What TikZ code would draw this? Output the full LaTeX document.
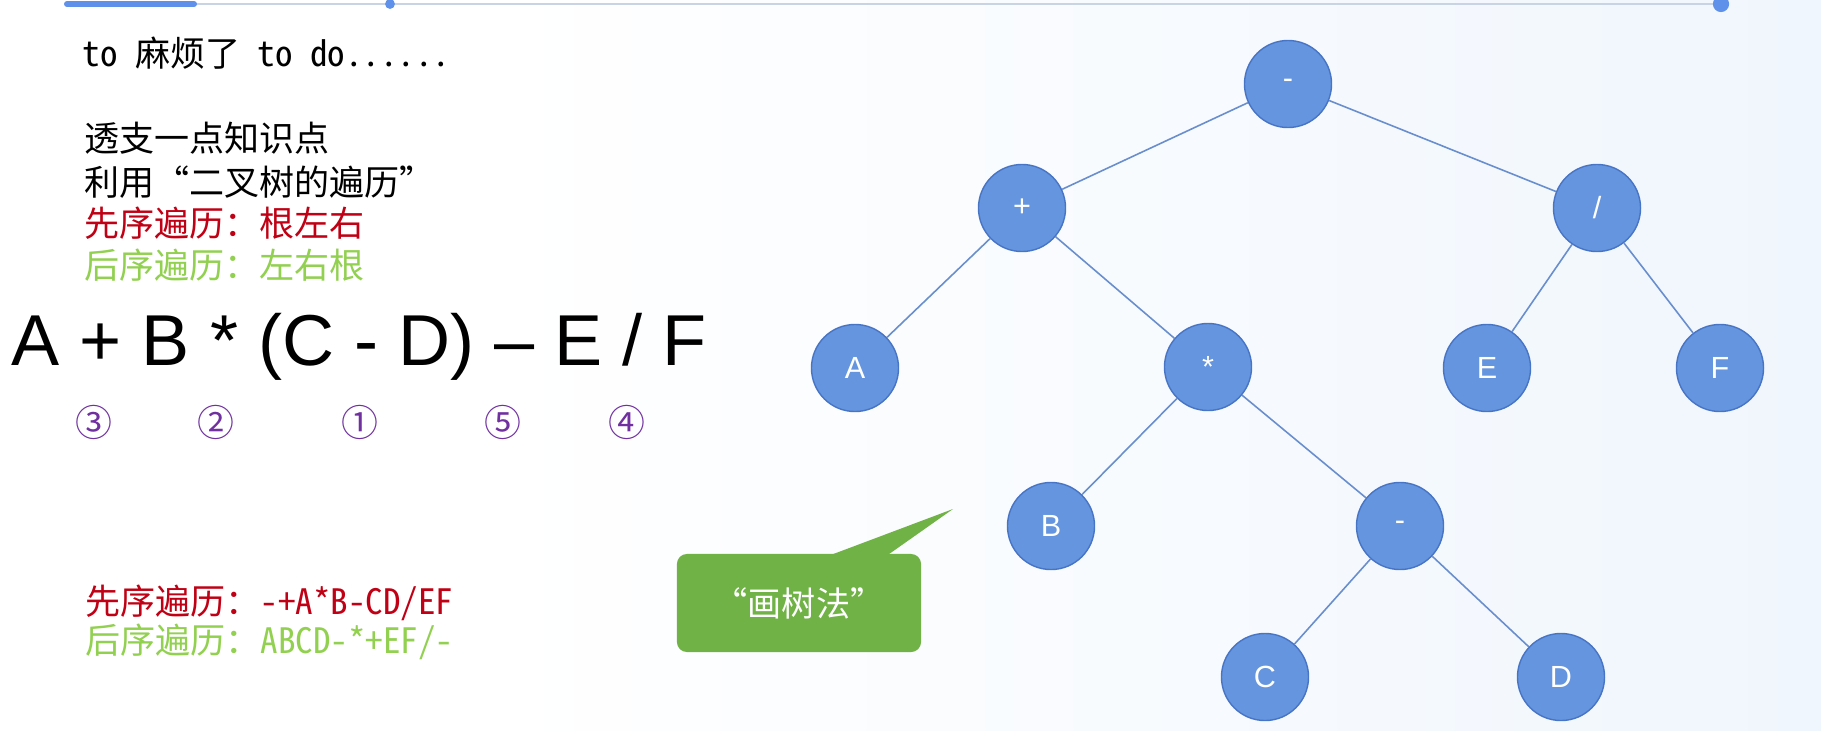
\documentclass[tikz,border=0pt]{standalone}
\usepackage{fontspec}
\setmainfont{Liberation Sans}
\newfontfamily\cjk[RawFeature=+hwid]{Noto Sans CJK SC}

\definecolor{nodeblue}{RGB}{100,149,222}
\definecolor{nodeborder}{RGB}{72,116,198}
\definecolor{edgeblue}{RGB}{104,142,206}
\definecolor{calloutgreen}{RGB}{112,178,70}
\definecolor{preorder}{RGB}{192,0,20}
\definecolor{postorder}{RGB}{146,208,80}
\definecolor{numpurple}{RGB}{112,48,160}
\definecolor{barblue}{RGB}{95,145,235}
\definecolor{barline}{RGB}{200,212,228}
\definecolor{bgblue}{RGB}{240,246,253}

\newcommand*{\wmax}{1821}
\newcommand*{\hmax}{730}

\begin{document}
\begin{tikzpicture}
[
	x=0.01cm, y=-0.01cm,
	treenode/.style={circle,draw=nodeborder,fill=nodeblue,line width=0.4pt,minimum size=0.87cm,inner sep=0pt,text=white,font=\fontsize{8.7pt}{10pt}\selectfont},
	treeline/.style={edgeblue,line width=0.45pt},
	zhline/.style={anchor=west,inner sep=0pt,font=\cjk\fontsize{9.96pt}{12pt}\selectfont},
	circnum/.style={inner sep=0pt,text=numpurple,font=\cjk\fontsize{10.5pt}{12pt}\selectfont},
	calloutbox/.style={fill=calloutgreen,rounded corners=0.1cm,minimum width=2.44cm,minimum height=0.98cm,text=white,font=\cjk\fontsize{9.7pt}{12pt}\selectfont}
]

	% background
	\fill[white] (0,0) rectangle (\wmax,\hmax);
	\shade[left color=white,right color=bgblue] (500,0) rectangle (\wmax,\hmax);
	\useasboundingbox (0,0) rectangle (\wmax,\hmax);

	% progress bar
	\coordinate (barstart) at (67,4);
	\coordinate (barplayed) at (194,4);
	\coordinate (barmark) at (390,4);
	\coordinate (barend) at (1721,4);
	\draw[barline,line width=0.6pt] (barstart) -- (barend);
	\draw[barblue,line width=1.7pt,line cap=round] (barstart) -- (barplayed);
	\fill[barblue] (barmark) circle (1.4pt);
	\fill[barblue] (barend) circle (2.3pt);

	% text
	\node[zhline] at (82,53) (todo) {to 麻烦了 to do......};
	\node[zhline] at (84,138) (hint) {透支一点知识点};
	\node[zhline] at (84,182) (use) {利用“二叉树的遍历”};
	\node[zhline,text=preorder] at (84,223) (prerule) {先序遍历：根左右};
	\node[zhline,text=postorder] at (84,265) (postrule) {后序遍历：左右根};
	\node[anchor=base west,inner sep=0pt,font=\fontsize{20.5pt}{24pt}\selectfont] at (11,365) (expr) {A + B * (C - D) – E / F};
	\node[circnum] at (94,422) (n3) {③};
	\node[circnum] at (216,422) (n2) {②};
	\node[circnum] at (360,422) (n1) {①};
	\node[circnum] at (503,422) (n5) {⑤};
	\node[circnum] at (627,422) (n4) {④};
	\node[zhline,text=preorder] at (85,603) (preres) {先序遍历：-+A*B-CD/EF};
	\node[zhline,text=postorder] at (85,642) (postres) {后序遍历：ABCD-*+EF/-};

	% tree
	\node[treenode] at (1288,84) (root) {-};
	\node[treenode] at (1022,208) (plus) {+};
	\node[treenode] at (1597,208) (divide) {/};
	\node[treenode] at (855,368) (a) {A};
	\node[treenode] at (1208,367) (times) {*};
	\node[treenode] at (1487,368) (e) {E};
	\node[treenode] at (1720,368) (f) {F};
	\node[treenode] at (1051,526) (b) {B};
	\node[treenode] at (1400,526) (minus) {-};
	\node[treenode] at (1265,677) (c) {C};
	\node[treenode] at (1561,677) (d) {D};
	\draw[treeline] (root) -- (plus);
	\draw[treeline] (root) -- (divide);
	\draw[treeline] (plus) -- (a);
	\draw[treeline] (plus) -- (times);
	\draw[treeline] (divide) -- (e);
	\draw[treeline] (divide) -- (f);
	\draw[treeline] (times) -- (b);
	\draw[treeline] (times) -- (minus);
	\draw[treeline] (minus) -- (c);
	\draw[treeline] (minus) -- (d);

	% callout
	\node[calloutbox] at (799,603) (callout) {“画树法”};
	\coordinate (tip) at (953,509);
	\fill[calloutgreen] ([xshift=0.23cm,yshift=-0.05cm]callout.north) -- (tip) -- ([xshift=0.84cm,yshift=-0.05cm]callout.north) -- cycle;

\end{tikzpicture}
\end{document}
